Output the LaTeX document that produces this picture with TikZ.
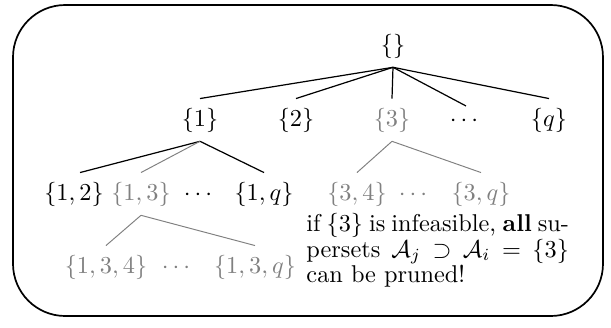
\documentclass[tikz,border=0pt]{standalone}
\usepackage{amsmath,amssymb}
\begin{document}
\begin{tikzpicture}[x=0.4115pt,y=-0.4115pt,
  tn/.style={anchor=base,inner sep=3.8pt,outer sep=0pt},
  off/.style={text=black!50},
  onedge/.style={line width=0.5pt,draw=black},
  offedge/.style={line width=0.4pt,draw=black!50},
  frame/.style={line width=0.7pt,rounded corners=21.5pt}]
\useasboundingbox (0,0) rectangle (611,327);
\draw[frame] (13,5) rectangle (603,316);
% root
\node[tn] (r) at (393,52) {$\{\}$};
% level 1
\node[tn] (a1) at (200,126) {$\{1\}$};
\node[tn] (a2) at (296,126) {$\{2\}$};
\node[tn,off] (a3) at (392,126) {$\{3\}$};
\node[tn] (ad) at (466,126) {$\cdots$};
\node[tn] (aq) at (549,126) {$\{q\}$};
% level 2
\node[tn] (b12) at (74,200) {$\{1,2\}$};
\node[tn,off] (b13) at (141,200) {$\{1,3\}$};
\node[tn] (bd) at (200,200) {$\cdots$};
\node[tn] (b1q) at (264,200) {$\{1,q\}$};
\node[tn,off] (b34) at (357,200) {$\{3,4\}$};
\node[tn,off] (bd2) at (415,200) {$\cdots$};
\node[tn,off] (b3q) at (481,200) {$\{3,q\}$};
% level 3
\node[tn,off] (c134) at (106,273) {$\{1,3,4\}$};
\node[tn,off] (cd) at (178,273) {$\cdots$};
\node[tn,off] (c13q) at (255,273) {$\{1,3,q\}$};
% edges
\draw[onedge] (r.south) -- (a1.north);
\draw[onedge] (r.south) -- (a2.north);
\draw[onedge] (r.south) -- (a3.north);
\draw[onedge] (r.south) -- (ad.north);
\draw[onedge] (r.south) -- (aq.north);
\draw[onedge] (a1.south) -- ([xshift=2.5pt]b12.north);
\draw[offedge] (a1.south) -- (b13.north);
\draw[onedge] (a1.south) -- (b1q.north);
\draw[offedge] (a3.south) -- (b34.north);
\draw[offedge] (a3.south) -- (b3q.north);
\draw[offedge] (b13.south) -- (c134.north);
\draw[offedge] (b13.south) -- (c13q.north);
% explanation
\node[anchor=base west,inner sep=0pt,text width=108pt,align=justify,
  font=\fontsize{10}{10.5}\selectfont] (t) at (306,231.7)
  {if $\{3\}$ is infeasible, \textbf{all} su-\linebreak persets $\mathcal{A}_j \supset \mathcal{A}_i = \{3\}$\linebreak can be pruned!};
\end{tikzpicture}
\end{document}
